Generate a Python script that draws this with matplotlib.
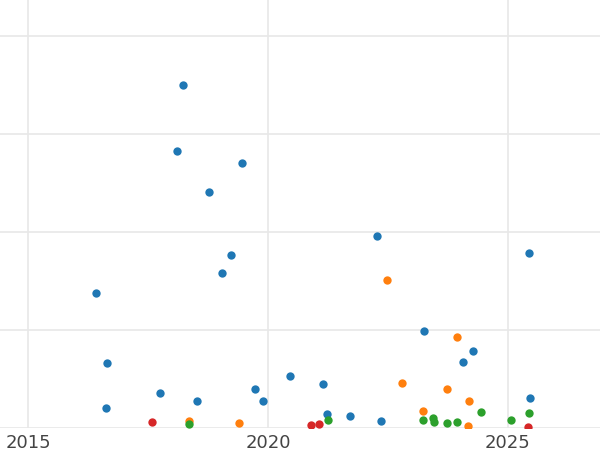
import matplotlib
matplotlib.use("Agg")
import matplotlib.pyplot as plt

blue_x = [2018.23,2018.10,2019.46,2018.77,2019.23,2019.04,2016.42,2016.65,2016.63,2017.75,2018.52,2019.73,2019.90,2020.46,2021.15,2021.23,2021.71,2022.27,2022.35,2023.25,2024.06,2024.27,2025.44,2025.46]
blue_y = [3.50,2.83,2.70,2.41,1.77,1.58,1.38,0.66,0.20,0.36,0.28,0.40,0.27,0.53,0.45,0.14,0.12,1.96,0.07,0.99,0.67,0.79,1.79,0.31]
orange_x = [2022.48,2023.94,2022.79,2023.73,2024.19,2023.23,2018.35,2019.40,2024.17]
orange_y = [1.51,0.93,0.46,0.40,0.27,0.17,0.07,0.05,0.02]
green_x = [2018.35,2021.25,2023.23,2023.44,2023.46,2023.73,2023.94,2024.44,2025.06,2025.44]
green_y = [0.04,0.08,0.08,0.10,0.06,0.05,0.06,0.16,0.08,0.15]
red_x = [2017.58,2020.90,2021.06,2025.42]
red_y = [0.06,0.03,0.04,0.01]
xticks = [2015, 2020, 2025]

fig = plt.figure(figsize=(6, 4.5), dpi=100)
ax = fig.add_axes([0, 0.049, 1, 0.951])
for xs, ys, c in [(blue_x, blue_y, "#1f77b4"), (orange_x, orange_y, "#ff7f0e"),
                  (green_x, green_y, "#2ca02c"), (red_x, red_y, "#d62728")]:
    ax.scatter(xs, ys, s=36, color=c, zorder=3, clip_on=True, linewidths=0)
ax.set_xlim(2014.417, 2026.917)
ax.set_ylim(0.008, 428 / 98)
ax.set_xticks(xticks)
ax.set_xticklabels([str(t) for t in xticks])
ax.set_yticks([0, 1, 2, 3, 4])
ax.set_yticklabels([])
ax.tick_params(length=0, labelsize=13, labelcolor="#444444", pad=4)
ax.grid(True, color="#e8e8e8", linewidth=1.2, zorder=0)
for s in ax.spines.values():
    s.set_visible(False)
fig.savefig("out.png")
